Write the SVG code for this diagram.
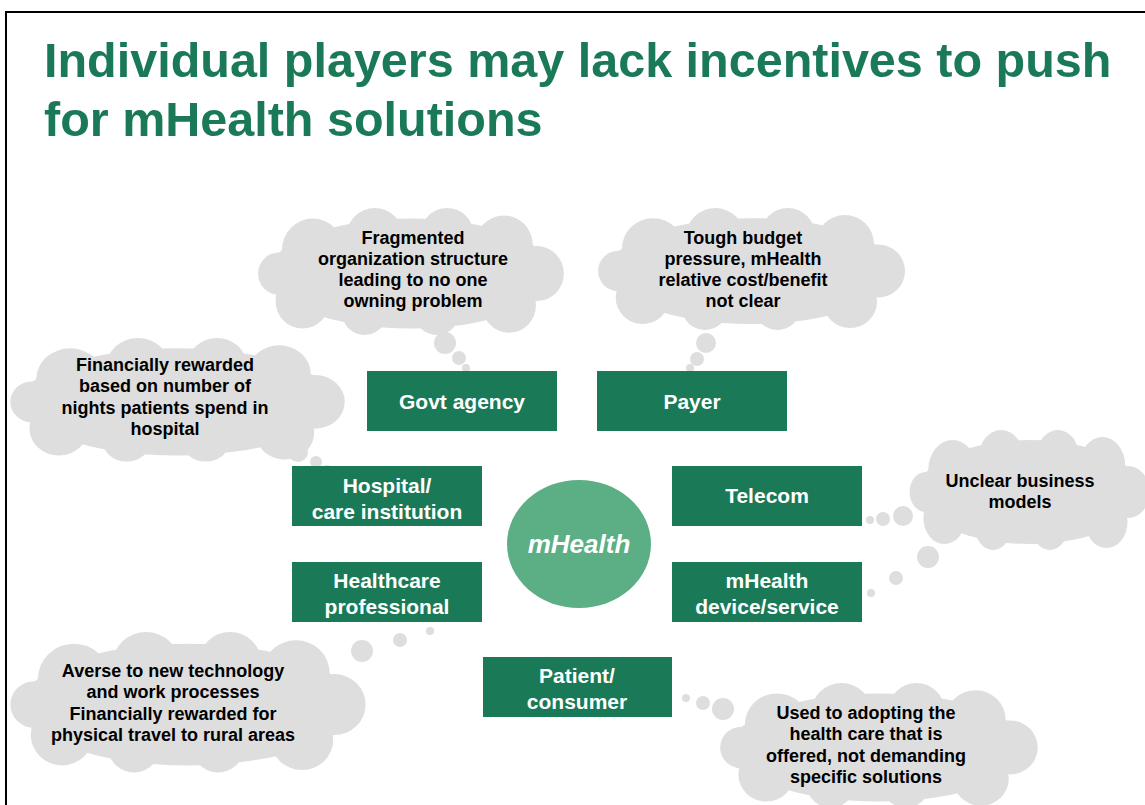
<svg xmlns="http://www.w3.org/2000/svg" xmlns:xlink="http://www.w3.org/1999/xlink" width="1145" height="805" viewBox="0 0 1145 805">
<style>
.title{font-family:"Liberation Sans",Arial,sans-serif;font-weight:bold;font-size:48.5px;fill:#1a7a57}
.box{fill:#1a7a57}
.bt{font-family:"Liberation Sans",Arial,sans-serif;font-weight:bold;font-size:21px;fill:#ffffff;text-anchor:middle}
.ct{font-family:"Liberation Sans",Arial,sans-serif;font-weight:bold;font-size:18px;fill:#000000;text-anchor:middle}
.cloud{fill:#dedede}
.bub{fill:#dedede}
</style>
<defs>
<g id="cloudShape">
<ellipse cx="150" cy="62" rx="138" ry="52"/>
<circle cx="55" cy="40" r="30"/>
<circle cx="115" cy="28" r="28"/>
<circle cx="185" cy="26" r="26"/>
<circle cx="240" cy="35" r="28"/>
<circle cx="272" cy="62" r="26"/>
<circle cx="245" cy="92" r="26"/>
<circle cx="175" cy="98" r="22"/>
<circle cx="105" cy="98" r="22"/>
<circle cx="45" cy="88" r="26"/>
<circle cx="22" cy="62" r="20"/>
</g>
</defs>
<rect x="0" y="0" width="1145" height="805" fill="#ffffff"/>
<rect x="6" y="12" width="1200" height="850" fill="none" stroke="#000000" stroke-width="2"/>
<g id="title">
<text class="title" x="44" y="77">Individual players may lack incentives to push</text>
<text class="title" x="44" y="136">for mHealth solutions</text>
</g>
<g id="connectors">
<circle class="bub" cx="445" cy="343" r="11"/>
<circle class="bub" cx="459" cy="358" r="7"/>
<circle class="bub" cx="466" cy="368" r="4"/>
<circle class="bub" cx="706" cy="343" r="10"/>
<circle class="bub" cx="697" cy="359" r="7"/>
<circle class="bub" cx="690" cy="368" r="4"/>
<circle class="bub" cx="298" cy="452" r="10"/>
<circle class="bub" cx="316" cy="462" r="6"/>
<circle class="bub" cx="327" cy="469" r="4"/>
<circle class="bub" cx="903" cy="516" r="10"/>
<circle class="bub" cx="883" cy="519" r="7"/>
<circle class="bub" cx="870" cy="520" r="4"/>
<circle class="bub" cx="928" cy="557" r="11"/>
<circle class="bub" cx="896" cy="578" r="7"/>
<circle class="bub" cx="871" cy="593" r="4"/>
<circle class="bub" cx="362" cy="651" r="11"/>
<circle class="bub" cx="400" cy="640" r="7"/>
<circle class="bub" cx="430" cy="631" r="4"/>
<circle class="bub" cx="723" cy="709" r="11"/>
<circle class="bub" cx="703" cy="703" r="7"/>
<circle class="bub" cx="686" cy="698" r="4"/>
</g>
<g id="cloud-govt">
<use xlink:href="#cloudShape" class="cloud" transform="translate(256,208) scale(1.033,1.058)"/>
<text class="ct" x="413" y="244">Fragmented</text>
<text class="ct" x="413" y="265">organization structure</text>
<text class="ct" x="413" y="286">leading to no one</text>
<text class="ct" x="413" y="307">owning problem</text>
</g>
<g id="cloud-payer">
<use xlink:href="#cloudShape" class="cloud" transform="translate(596,208) scale(1.037,1.017)"/>
<text class="ct" x="743" y="244">Tough budget</text>
<text class="ct" x="743" y="265">pressure, mHealth</text>
<text class="ct" x="743" y="286">relative cost/benefit</text>
<text class="ct" x="743" y="307">not clear</text>
</g>
<g id="cloud-hospital">
<use xlink:href="#cloudShape" class="cloud" transform="translate(8,338) scale(1.13,1.03)"/>
<text class="ct" x="165" y="371">Financially rewarded</text>
<text class="ct" x="165" y="392">based on number of</text>
<text class="ct" x="165" y="414">nights patients spend in</text>
<text class="ct" x="165" y="435">hospital</text>
</g>
<g id="cloud-telecom">
<use xlink:href="#cloudShape" class="cloud" transform="translate(908,430) scale(0.81,1.0)"/>
<text class="ct" x="1020" y="487">Unclear business</text>
<text class="ct" x="1020" y="508">models</text>
</g>
<g id="cloud-professional">
<use xlink:href="#cloudShape" class="cloud" transform="translate(8,632) scale(1.2,1.17)"/>
<text class="ct" x="173" y="677">Averse to new technology</text>
<text class="ct" x="173" y="698">and work processes</text>
<text class="ct" x="173" y="720">Financially rewarded for</text>
<text class="ct" x="173" y="741">physical travel to rural areas</text>
</g>
<g id="cloud-patient">
<use xlink:href="#cloudShape" class="cloud" transform="translate(718,683) scale(1.073,1.04)"/>
<text class="ct" x="866" y="719">Used to adopting the</text>
<text class="ct" x="866" y="740">health care that is</text>
<text class="ct" x="866" y="762">offered, not demanding</text>
<text class="ct" x="866" y="783">specific solutions</text>
</g>
<g id="node-govt">
<rect class="box" x="367" y="371" width="190" height="60"/>
<text class="bt" x="462" y="409">Govt agency</text>
</g>
<g id="node-payer">
<rect class="box" x="597" y="371" width="190" height="60"/>
<text class="bt" x="692" y="409">Payer</text>
</g>
<g id="node-hospital">
<rect class="box" x="292" y="466" width="190" height="60"/>
<text class="bt" x="387" y="493">Hospital/</text>
<text class="bt" x="387" y="519">care institution</text>
</g>
<g id="node-telecom">
<rect class="box" x="672" y="466" width="190" height="60"/>
<text class="bt" x="767" y="503">Telecom</text>
</g>
<g id="node-professional">
<rect class="box" x="292" y="562" width="190" height="60"/>
<text class="bt" x="387" y="588">Healthcare</text>
<text class="bt" x="387" y="614">professional</text>
</g>
<g id="node-device">
<rect class="box" x="672" y="562" width="190" height="60"/>
<text class="bt" x="767" y="588">mHealth</text>
<text class="bt" x="767" y="614">device/service</text>
</g>
<g id="node-patient">
<rect class="box" x="483" y="657" width="189" height="60"/>
<text class="bt" x="577" y="683">Patient/</text>
<text class="bt" x="577" y="709">consumer</text>
</g>
<g id="node-mhealth">
<ellipse cx="579" cy="544" rx="72" ry="64" fill="#5caf85"/>
<text x="579" y="553" text-anchor="middle" style="font-family:'Liberation Sans',Arial,sans-serif;font-weight:bold;font-style:italic;font-size:26px;fill:#ffffff">mHealth</text>
</g>
</svg>
